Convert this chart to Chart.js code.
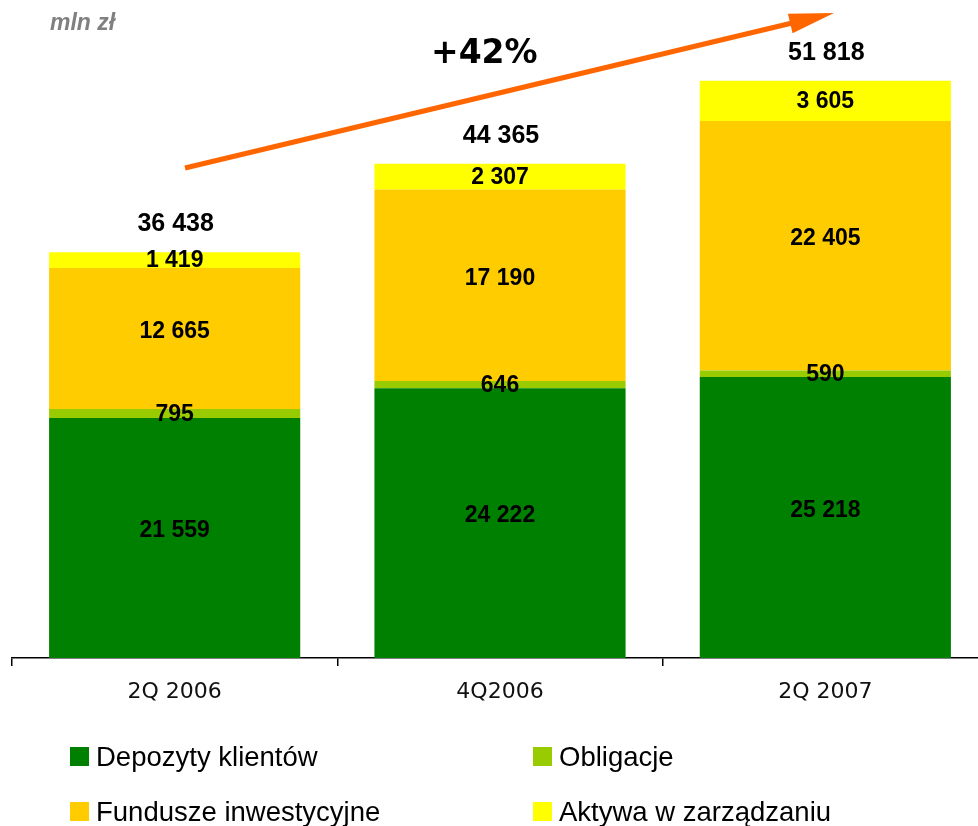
<!DOCTYPE html>
<html>
<head>
<meta charset="utf-8">
<script src="https://cdn.jsdelivr.net/npm/chart.js@4/dist/chart.umd.min.js"></script>
<style>
  html, body { margin: 0; padding: 0; background: #fff; overflow: hidden; }
  #wrap { position: relative; width: 990px; height: 826px; }
</style>
</head>
<body>
<div id="wrap"><canvas id="assetsChart" width="990" height="826"></canvas></div>
<script>
// values (mln zł)
const categories = ['2Q 2006', '4Q2006', '2Q 2007'];
const depozyty = [21559, 24222, 25218];
const obligacje = [795, 646, 590];
const fundusze = [12665, 17190, 22405];
const aktywa = [1419, 2307, 3605];
const growthLabel = '+42%';

const seriesNames = ['Depozyty klientów', 'Obligacje', 'Fundusze inwestycyjne', 'Aktywa w zarządzaniu'];
const seriesColors = ['#008000', '#99CC00', '#FFCC00', '#FFFF00'];

function fmt(n) {
  return String(n).replace(/\B(?=(\d{3})+(?!\d))/g, ' ');
}

// labels, totals, arrow and legend drawn on top of the bars
const overlayPlugin = {
  id: 'overlay',
  afterDatasetsDraw(chart) {
    const ctx = chart.ctx;
    ctx.save();

    // values inside each segment (tall segments: label sits a bit above the middle)
    ctx.fillStyle = '#000';
    ctx.textAlign = 'center';
    ctx.textBaseline = 'middle';
    ctx.font = 'bold 23px "Liberation Sans", Arial, sans-serif';
    chart.data.datasets.forEach((ds, i) => {
      chart.getDatasetMeta(i).data.forEach((bar, j) => {
        const h = bar.base - bar.y;
        const lift = h > 100 ? 8 : 0;
        ctx.fillText(fmt(ds.data[j]), bar.x, (bar.y + bar.base) / 2 + 1 - lift);
      });
    });

    // totals above stacks
    ctx.font = 'bold 25px "Liberation Sans", Arial, sans-serif';
    const top = chart.getDatasetMeta(chart.data.datasets.length - 1).data;
    categories.forEach((c, j) => {
      const total = depozyty[j] + obligacje[j] + fundusze[j] + aktywa[j];
      ctx.fillText(fmt(total), top[j].x + 1, top[j].y - 28);
    });

    // "mln zł"
    ctx.fillStyle = '#808080';
    ctx.textAlign = 'left';
    ctx.textBaseline = 'alphabetic';
    ctx.font = 'italic bold 23px "Liberation Sans", Arial, sans-serif';
    ctx.fillText('mln zł', 50, 30);

    // growth arrow
    const x0 = 185, y0 = 168, x1 = 834, y1 = 13;
    const ang = Math.atan2(y1 - y0, x1 - x0);
    const headLen = 45, headW = 10;
    const bx = x1 - headLen * Math.cos(ang), by = y1 - headLen * Math.sin(ang);
    ctx.strokeStyle = '#FF6600';
    ctx.fillStyle = '#FF6600';
    ctx.lineWidth = 5;
    ctx.beginPath();
    ctx.moveTo(x0, y0);
    ctx.lineTo(bx + 2 * Math.cos(ang), by + 2 * Math.sin(ang));
    ctx.stroke();
    ctx.beginPath();
    ctx.moveTo(x1, y1);
    ctx.lineTo(bx + headW * Math.sin(ang), by - headW * Math.cos(ang));
    ctx.lineTo(bx - headW * Math.sin(ang), by + headW * Math.cos(ang));
    ctx.closePath();
    ctx.fill();

    ctx.fillStyle = '#000';
    ctx.font = 'bold 33px "DejaVu Sans", sans-serif';
    ctx.fillText(growthLabel, 431, 63);

    // legend, two columns
    ctx.font = '27.5px "Liberation Sans", Arial, sans-serif';
    const cols = [70, 533], rows = [766, 821];
    seriesNames.forEach((name, i) => {
      const lx = cols[i % 2], ly = rows[Math.floor(i / 2)];
      ctx.fillStyle = seriesColors[i];
      ctx.fillRect(lx, ly - 19, 19, 19);
      ctx.fillStyle = '#000';
      ctx.fillText(name, lx + 26, ly);
    });

    ctx.restore();
  }
};

const chart = new Chart(document.getElementById('assetsChart'), {
  type: 'bar',
  data: {
    labels: categories,
    datasets: [
      { label: seriesNames[0], data: depozyty, backgroundColor: seriesColors[0] },
      { label: seriesNames[1], data: obligacje, backgroundColor: seriesColors[1] },
      { label: seriesNames[2], data: fundusze, backgroundColor: seriesColors[2] },
      { label: seriesNames[3], data: aktywa, backgroundColor: seriesColors[3] }
    ]
  },
  options: {
    responsive: false,
    animation: false,
    datasets: { bar: { barPercentage: 0.772, categoryPercentage: 1, borderWidth: 0 } },
    layout: { padding: { top: 12, left: 12, right: 2, bottom: 118 } },
    plugins: { legend: { display: false }, tooltip: { enabled: false } },
    scales: {
      x: {
        stacked: true,
        afterFit(s) { s.height = 50; },
        border: { display: true, color: '#000', width: 1.5 },
        grid: { offset: true, drawOnChartArea: false, drawTicks: true, tickLength: 8, color: '#000', lineWidth: 1.5 },
        ticks: { color: '#111', padding: 13, font: { family: '"DejaVu Sans", sans-serif', size: 22 } }
      },
      y: {
        stacked: true,
        display: false,
        min: 0,
        max: 58000
      }
    }
  },
  plugins: [overlayPlugin]
});
</script>
</body>
</html>
